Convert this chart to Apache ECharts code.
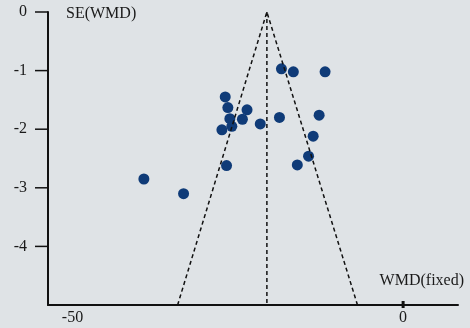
<!DOCTYPE html>
<html>
<head>
<meta charset="utf-8">
<script src="https://cdn.jsdelivr.net/npm/echarts@6/dist/echarts.min.js"></script>
<style>html,body{margin:0;padding:0;background:#dfe3e6;}#c{width:470px;height:328px;}</style>
</head>
<body>
<div id="c"></div>
<script>
// Study effects (WMD) and their negative standard errors
var wmd = [-26.9, -26.5, -23.6, -26.2, -24.3, -25.9, -27.4, -21.6, -18.7, -18.4, -16.6, -11.8, -12.7, -13.6, -14.3, -16.0, -39.2, -33.2, -26.7];
var se  = [-1.45, -1.63, -1.67, -1.82, -1.83, -1.95, -2.01, -1.91, -1.80, -0.97, -1.02, -1.02, -1.76, -2.12, -2.46, -2.61, -2.85, -3.10, -2.62];
// Funnel: pooled estimate and limits at the bottom
var pooled = -20.6;
var funnelX = [-34.1, -20.6, -6.9];
var funnelY = [-5, 0, -5];
var yTicks = [0, -1, -2, -3, -4];
var xTicks = [-50, 0];
var xMarks = [0];

var xMin = -53.7, xMax = 8.3, yMin = -5, yMax = 0;
var font = 'Liberation Serif';
var chart = echarts.init(document.getElementById('c'));
var pts = wmd.map(function(v, i){ return [v, se[i]]; });
var funnel = funnelX.map(function(v, i){ return [v, funnelY[i]]; });

function yTickItem(params, api) {
  var p = api.coord([api.value(0), api.value(1)]);
  return {type: 'line', shape: {x1: p[0] - 13, y1: p[1], x2: p[0], y2: p[1]},
          style: {stroke: '#111', lineWidth: 1.5}};
}
function xTickItem(params, api) {
  var p = api.coord([api.value(0), api.value(1)]);
  return {type: 'line', shape: {x1: p[0], y1: p[1] - 4, x2: p[0], y2: p[1] + 3},
          style: {stroke: '#111', lineWidth: 3}};
}

chart.setOption({
  backgroundColor: '#dfe3e6',
  animation: false,
  grid: {left: 48, right: 12, top: 12, bottom: 23},
  xAxis: {
    type: 'value', min: xMin, max: xMax, position: 'bottom',
    splitLine: {show: false},
    axisLine: {onZero: false, lineStyle: {color: '#111', width: 2}},
    axisTick: {show: false},
    axisLabel: {customValues: xTicks, color: '#1a1a1a', fontFamily: font, fontSize: 16, margin: 5}
  },
  yAxis: {
    type: 'value', min: yMin, max: yMax, interval: 1, position: 'left',
    splitLine: {show: false},
    axisLine: {onZero: false, lineStyle: {color: '#111', width: 2}},
    axisTick: {show: false},
    axisLabel: {customValues: yTicks, color: '#1a1a1a', fontFamily: font, fontSize: 16, margin: 21}
  },
  graphic: [
    {type: 'text', left: 66, top: 6, style: {text: 'SE(WMD)', font: '16px "Liberation Serif"', fill: '#1a1a1a'}},
    {type: 'text', right: 6, top: 273, style: {text: 'WMD(fixed)', font: '16px "Liberation Serif"', fill: '#1a1a1a'}}
  ],
  series: [
    {type: 'line', data: funnel, symbol: 'none', silent: true,
     lineStyle: {color: '#111', width: 1.5, type: [4, 3]}},
    {type: 'line', data: [[pooled, yMax], [pooled, yMin]], symbol: 'none', silent: true,
     lineStyle: {color: '#111', width: 1.5, type: [4, 3]}},
    {type: 'custom', silent: true, clip: false, renderItem: yTickItem,
     data: yTicks.map(function(v){ return [xMin, v]; })},
    {type: 'custom', silent: true, clip: false, renderItem: xTickItem,
     data: xMarks.map(function(v){ return [v, yMin]; })},
    {type: 'scatter', data: pts, symbolSize: 11, itemStyle: {color: '#0f3b78', opacity: 1}}
  ]
});
</script>
</body>
</html>
